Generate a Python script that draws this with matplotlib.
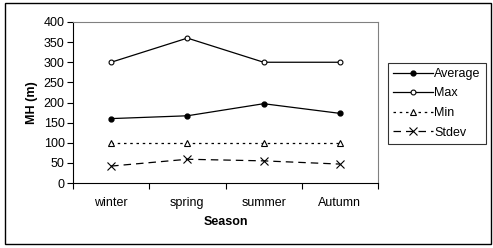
import matplotlib
matplotlib.use("Agg")
import matplotlib.pyplot as plt
from matplotlib.patches import Rectangle

seasons = ["winter", "spring", "summer", "Autumn"]
average = [160, 167, 197, 173]
maximum = [300, 360, 300, 300]
minimum = [100, 100, 100, 100]
stdev = [42, 59, 55, 47]
yticks = [0, 50, 100, 150, 200, 250, 300, 350, 400]

plt.rcParams['font.family'] = ['Liberation Sans', 'DejaVu Sans']
W, H = 493, 248
fig = plt.figure(figsize=(W/100, H/100), dpi=100)
fig.patch.set_facecolor('white')
fig.add_artist(Rectangle((5/W, 1-244/H), 486/W, 241/H, transform=fig.transFigure,
                         fill=False, edgecolor='black', lw=1.0))

ax = fig.add_axes([73/W, 1-183/H, (378-73)/W, (183-22)/H])
x = list(range(len(seasons)))
ax.plot(x, average, color='black', lw=0.9, marker='o', ms=3.5, mfc='black', mec='black', label='Average')
ax.plot(x, maximum, color='black', lw=0.9, marker='o', ms=3.5, mfc='white', mec='black', mew=0.8, label='Max')
ax.plot(x, minimum, color='black', lw=0.9, ls=(0, (2, 3)), marker='^', ms=4.5, mfc='white', mec='black', mew=0.8, label='Min')
ax.plot(x, stdev, color='black', lw=0.9, ls=(0, (6, 4)), marker='x', ms=5.5, mec='black', mew=0.8, label='Stdev')

ax.set_xlim(-0.5, len(seasons) - 0.5)
ax.set_ylim(0, 400)
ax.set_yticks(yticks)
ax.set_xticks([i - 0.5 for i in range(len(seasons) + 1)], minor=False)
ax.set_xticklabels([])
ax.set_xticks(x, minor=True)
ax.set_xticklabels(seasons, minor=True)
ax.tick_params(axis='x', which='minor', length=0, pad=10, labelsize=9)
ax.tick_params(axis='x', which='major', length=4, direction='out', width=0.8)
ax.tick_params(axis='y', length=4, direction='out', width=0.8, labelsize=9, pad=2)
for s in ['top', 'right']:
    ax.spines[s].set_color('#808080')
for s in ['left', 'bottom']:
    ax.spines[s].set_color('black')
ax.set_xlabel('Season', fontweight='bold', fontsize=9, labelpad=5)
ax.set_ylabel('MH (m)', fontweight='bold', fontsize=9, labelpad=4)

leg = fig.legend(loc='upper left', bbox_to_anchor=(388/W, 1-63/H), frameon=True, fancybox=False,
                 edgecolor='black', fontsize=9, borderpad=0.4, labelspacing=0.6,
                 handlelength=3.2, handletextpad=0.1, borderaxespad=0)
leg.get_frame().set_linewidth(0.8)

fig.savefig('out.png', dpi=100, facecolor='white')
